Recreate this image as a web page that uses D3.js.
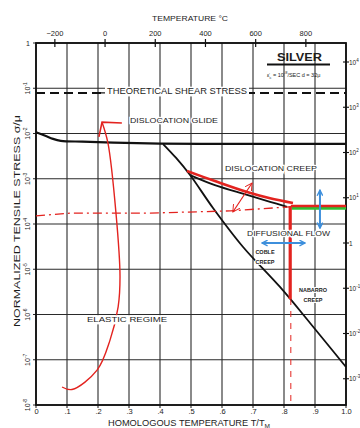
<!DOCTYPE html>
<html><head><meta charset="utf-8">
<script src="https://cdn.jsdelivr.net/npm/d3@7"></script>
<style>
body{margin:0;background:#fff}
svg{display:block}
text{font-family:"Liberation Sans",Arial,sans-serif;fill:#1c1c1c}
</style>
</head><body>
<svg id="chart" width="360" height="428"></svg>
<script>
// ---------- DATA ----------
const homologousTicks = [0, 0.1, 0.2, 0.3, 0.4, 0.5, 0.6, 0.7, 0.8, 0.9, 1.0];
const homologousLabels = ["0", ".1", ".2", ".3", ".4", ".5", ".6", ".7", ".8", ".9", "1.0"];
const stressExponents = [0, -1, -2, -3, -4, -5, -6, -7, -8];
const tempTicksC = [-200, 0, 200, 400, 600, 800];
const meltingPointK = 1235;
const rightExponents = [4, 3, 2, 1, 0, -1, -2, -3];
const rightFactor = 2.63e4; // right-axis stress / normalized stress

const theoreticalShear = 7.9e-2;

const glideT      = [0, 0.03, 0.055, 0.08, 0.15, 0.25, 0.4, 0.6, 0.8, 1.0];
const glideStress = [1.07e-2, 8.9e-3, 7.6e-3, 6.9e-3, 6.6e-3, 6.3e-3, 6.0e-3, 5.9e-3, 5.9e-3, 5.9e-3];

const lowerT      = [0.41, 0.452, 0.497, 0.571, 0.668, 0.787, 0.884, 1.0];
const lowerStress = [5.86e-3, 2.88e-3, 1.21e-3, 2.26e-4, 3.1e-5, 4.06e-6, 6.5e-7, 6.9e-8];

const creepDiffT      = [0.497, 0.577, 0.681, 0.755, 0.81];
const creepDiffStress = [1.2e-3, 7.2e-4, 4.4e-4, 3.1e-4, 2.4e-4];

const redCreepT      = [0.487, 0.577, 0.681, 0.755, 0.829];
const redCreepStress = [1.48e-3, 8.9e-4, 5.1e-4, 3.7e-4, 2.9e-4];

const redFlatT = [0.822, 1.0];
const redFlatStress = [2.5e-4, 2.5e-4];
const greenFlatT = [0.824, 1.0];
const greenFlatStress = [2.24e-4, 2.24e-4];
const redVertT = [0.82, 0.82];
const redVertStress = [2.5e-4, 2.2e-6];
const redDashVertT = [0.822, 0.822];
const redDashVertStress = [2.2e-6, 1e-8];

const redDashDotT = [0, 0.11, 0.368, 0.626, 0.82];
const redDashDotStress = [1.51e-4, 1.74e-4, 1.74e-4, 1.95e-4, 2.4e-4];

const glideArrowT = [0.084, 0.116, 0.197, 0.239, 0.265, 0.271, 0.258, 0.232, 0.213];
const glideArrowStress = [2.5e-8, 2.2e-8, 5.9e-8, 2.75e-7, 1.48e-6, 6.8e-6, 1.74e-4, 6.2e-3, 1.78e-2];
const glideHeadT = [0.203, 0.213, 0.277];
const glideHeadStress = [8.4e-3, 1.78e-2, 1.7e-2];

const redArrowT = [0.635, 0.697];
const redArrowStress = [1.84e-4, 8.05e-4];
const blueVertT = [0.916, 0.916];
const blueVertStress = [5.6e-4, 8.1e-5];
const blueHorizT = [0.729, 0.868];
const blueHorizStress = [3.8e-5, 3.8e-5];

// ---------- SCALES ----------
const svg = d3.select("#chart");
const L = 36, R = 346, T = 43, B = 405;
const x = d3.scaleLinear().domain([0, 1]).range([L, R]);
const y = d3.scaleLog().domain([1, 1e-8]).range([T, B]);
const xC = d3.scaleLinear().domain([-meltingPointK + 0 - 0, 0].map((d,i)=> i===0 ? -273.15 : meltingPointK - 273.15)).range([L, R]);
const yR = d3.scaleLog().domain([rightFactor, 1e-8 * rightFactor]).range([T, B]);

const RED = "#e3231f", BLUE = "#3d8fdc", GREEN = "#2fbf35", INK = "#1e1e1e";
const zip = (a, b) => a.map((d, i) => [d, b[i]]);
const line = d3.line().x(d => x(d[0])).y(d => y(d[1]));
const curve = d3.line().x(d => x(d[0])).y(d => y(d[1])).curve(d3.curveCatmullRom.alpha(0.5));

// markers
const defs = svg.append("defs");
function chevron(id, color) {
  defs.append("marker").attr("id", id).attr("viewBox", "0 0 10 10")
    .attr("refX", 9).attr("refY", 5).attr("markerWidth", 5).attr("markerHeight", 5)
    .attr("markerUnits", "userSpaceOnUse").attr("orient", "auto-start-reverse")
    .append("path").attr("d", "M1,1 L9,5 L1,9").attr("fill", "none")
    .attr("stroke", color).attr("stroke-width", 2);
}
defs.append("marker").attr("id", "blueHead").attr("viewBox", "0 0 10 10")
  .attr("refX", 9).attr("refY", 5).attr("markerWidth", 7).attr("markerHeight", 7)
  .attr("markerUnits", "userSpaceOnUse").attr("orient", "auto-start-reverse")
  .append("path").attr("d", "M1,1 L9,5 L1,9").attr("fill", "none")
  .attr("stroke", BLUE).attr("stroke-width", 2);
defs.append("marker").attr("id", "redHead").attr("viewBox", "0 0 10 10")
  .attr("refX", 9).attr("refY", 5).attr("markerWidth", 8).attr("markerHeight", 8)
  .attr("markerUnits", "userSpaceOnUse").attr("orient", "auto-start-reverse")
  .append("path").attr("d", "M0,0 L9,5 L0,10").attr("fill", "none")
  .attr("stroke", RED).attr("stroke-width", 1.2);

// ---------- GRID ----------
const grid = svg.append("g").attr("stroke", "#2a2a2a").attr("stroke-width", 1.1);
grid.selectAll(".v").data(homologousTicks).join("line")
  .attr("x1", d => x(d)).attr("x2", d => x(d)).attr("y1", T).attr("y2", B + 3);
grid.selectAll(".h").data(stressExponents).join("line")
  .attr("y1", d => y(Math.pow(10, d))).attr("y2", d => y(Math.pow(10, d)))
  .attr("x1", L - 3).attr("x2", R);

// frame
svg.append("rect").attr("x", L).attr("y", T).attr("width", R - L).attr("height", B - T)
  .attr("fill", "none").attr("stroke", "#111").attr("stroke-width", 1.8);

// top axis (temperature °C)
const topAxis = d3.axisTop(xC).tickValues(tempTicksC).tickSize(0).tickPadding(7).tickFormat(d3.format("d"));
const gTop = svg.append("g").attr("transform", `translate(0,${T})`).call(topAxis);
gTop.select(".domain").remove();
gTop.selectAll("text").attr("font-size", 7.5).attr("fill", INK).attr("font-family", "Liberation Sans");
gTop.selectAll(".tick").append("line").attr("y1", -4).attr("y2", 4).attr("stroke", "#111").attr("stroke-width", 1.2);

// bottom axis labels
const botAxis = d3.axisBottom(x).tickValues(homologousTicks).tickSize(0).tickPadding(4)
  .tickFormat((d, i) => homologousLabels[i]);
const gBot = svg.append("g").attr("transform", `translate(0,${B})`).call(botAxis);
gBot.select(".domain").remove();
gBot.selectAll("text").attr("font-size", 7.5).attr("fill", INK).attr("font-family", "Liberation Sans");

// left axis labels (rotated)
const gLeft = svg.append("g");
stressExponents.forEach(e => {
  const yy = y(Math.pow(10, e));
  const t = gLeft.append("text").attr("font-size", 7)
    .attr("transform", e === 0 ? `translate(28,${yy + 2.5})` : `translate(30,${yy}) rotate(-90)`)
    .attr("text-anchor", "middle");
  if (e === 0) t.text("1");
  else { t.append("tspan").text("10"); t.append("tspan").attr("dy", -3).attr("font-size", 5).text(String(e)); }
});

// right axis ticks & labels
const gRight = svg.append("g");
rightExponents.forEach(e => {
  const yy = yR(Math.pow(10, e));
  gRight.append("line").attr("x1", R - 3).attr("x2", R + 3).attr("y1", yy).attr("y2", yy)
    .attr("stroke", "#111").attr("stroke-width", 1.1);
  const t = gRight.append("text").attr("x", R + 3).attr("y", yy + 2.5).attr("font-size", 6.5);
  if (e === 0) t.text("1");
  else { t.append("tspan").text("10"); t.append("tspan").attr("dy", -3).attr("font-size", 4.5).text(String(e)); }
});

// ---------- CURVES ----------
// theoretical shear stress (dashed), broken by label
const thY = y(theoreticalShear);
svg.append("path").attr("d", line([[0, theoreticalShear], [1, theoreticalShear]]))
  .attr("stroke", "#111").attr("stroke-width", 2).attr("stroke-dasharray", "9,5").attr("fill", "none");

svg.append("path").attr("d", curve(zip(glideT, glideStress)))
  .attr("stroke", "#111").attr("stroke-width", 2.2).attr("fill", "none");
svg.append("path").attr("d", curve(zip(lowerT, lowerStress)))
  .attr("stroke", "#111").attr("stroke-width", 1.8).attr("fill", "none");
svg.append("path").attr("d", curve(zip(creepDiffT, creepDiffStress)))
  .attr("stroke", "#111").attr("stroke-width", 1.8).attr("fill", "none");

// red / green overlays
svg.append("path").attr("d", line(zip(redDashDotT, redDashDotStress)))
  .attr("stroke", RED).attr("stroke-width", 1.3).attr("stroke-dasharray", "9,4,2,4").attr("fill", "none");
svg.append("path").attr("d", line(zip(greenFlatT, greenFlatStress)))
  .attr("stroke", GREEN).attr("stroke-width", 3).attr("fill", "none");
svg.append("path").attr("d", curve(zip(redCreepT, redCreepStress)))
  .attr("stroke", RED).attr("stroke-width", 2.6).attr("fill", "none");
svg.append("path").attr("d", line(zip(redFlatT, redFlatStress)))
  .attr("stroke", RED).attr("stroke-width", 2.6).attr("fill", "none");
svg.append("path").attr("d", line(zip(redVertT, redVertStress)))
  .attr("stroke", RED).attr("stroke-width", 3.2).attr("fill", "none");
svg.append("path").attr("d", line(zip(redDashVertT, redDashVertStress)))
  .attr("stroke", RED).attr("stroke-width", 1).attr("stroke-dasharray", "6,6").attr("fill", "none");

svg.append("path").attr("d", curve(zip(glideArrowT, glideArrowStress)))
  .attr("stroke", RED).attr("stroke-width", 1.4).attr("fill", "none");
svg.append("path").attr("d", line(zip(glideHeadT, glideHeadStress)))
  .attr("stroke", RED).attr("stroke-width", 1.6).attr("fill", "none");

svg.append("path").attr("d", line(zip(redArrowT, redArrowStress)))
  .attr("stroke", RED).attr("stroke-width", 1.2).attr("fill", "none")
  .attr("marker-start", "url(#redHead)").attr("marker-end", "url(#redHead)");

svg.append("path").attr("d", line(zip(blueVertT, blueVertStress)))
  .attr("stroke", BLUE).attr("stroke-width", 2).attr("fill", "none")
  .attr("marker-start", "url(#blueHead)").attr("marker-end", "url(#blueHead)");
svg.append("path").attr("d", line(zip(blueHorizT, blueHorizStress)))
  .attr("stroke", BLUE).attr("stroke-width", 2.2).attr("fill", "none")
  .attr("marker-start", "url(#blueHead)").attr("marker-end", "url(#blueHead)");

// ---------- LABELS ----------
function label(txt, x0, x1, yy, size, opts = {}) {
  if (opts.bg) svg.append("rect").attr("x", x0 - 2).attr("y", yy - size * 0.85).attr("width", x1 - x0 + 4)
    .attr("height", size * 1.15).attr("fill", "#fff");
  const t = svg.append("text").attr("x", x0).attr("y", yy).attr("font-size", size)
    .attr("textLength", x1 - x0).attr("lengthAdjust", "spacingAndGlyphs").text(txt);
  if (opts.halo) t.attr("stroke", "#fff").attr("stroke-width", 2.5).attr("paint-order", "stroke");
  if (opts.bold) t.attr("font-weight", "bold");
  return t;
}
label("THEORETICAL SHEAR STRESS", 107, 247, thY + 1, 8.5, { bg: true });
svg.append("line").attr("x1", 99).attr("x2", 105).attr("y1", thY).attr("y2", thY).attr("stroke", "#111").attr("stroke-width", 1.2);
label("DISLOCATION GLIDE", 130, 218, 123, 7.5, { halo: true });
label("DISLOCATION CREEP", 225, 317, 171, 8, { halo: true });
label("DIFFUSIONAL FLOW", 247, 330, 236, 8, { halo: true });
label("ELASTIC REGIME", 87, 167, 322, 8, { bg: true });

function smallCentered(txt, cx, yy) {
  svg.append("text").attr("x", cx).attr("y", yy).attr("font-size", 5.5).attr("font-weight", "bold")
    .attr("text-anchor", "middle").attr("stroke", "#fff").attr("stroke-width", 2)
    .attr("paint-order", "stroke").text(txt);
}
smallCentered("COBLE", 265, 254);
smallCentered("CREEP", 265, 264);
smallCentered("NABARRO", 313, 292);
smallCentered("CREEP", 313, 302);

// SILVER box text
label("SILVER", 277, 322, 61, 10.5, { bold: true });
svg.append("line").attr("x1", 267).attr("x2", 330).attr("y1", 64.5).attr("y2", 64.5).attr("stroke", "#111").attr("stroke-width", 2);
const cond = svg.append("text").attr("x", 267).attr("y", 77).attr("font-size", 5.5);
cond.append("tspan").text("ε̇");
cond.append("tspan").attr("dy", 1.5).attr("font-size", 4).text("c");
cond.append("tspan").attr("dy", -1.5).text(" = 10");
cond.append("tspan").attr("dy", -3).attr("font-size", 4).text("-8");
cond.append("tspan").attr("dy", 3).text("/SEC  d = 32μ");

// axis titles
label("TEMPERATURE °C", 152, 228, 21, 8);
const bt = svg.append("text").attr("x", 108).attr("y", 426).attr("font-size", 8.5)
  .attr("textLength", 162).attr("lengthAdjust", "spacingAndGlyphs");
bt.append("tspan").text("HOMOLOGOUS TEMPERATURE T/T");
bt.append("tspan").attr("dy", 2).attr("font-size", 6).text("M");

const lt = svg.append("text").attr("transform", "translate(20,327) rotate(-90)").attr("font-size", 9.5)
  .attr("textLength", 212).attr("lengthAdjust", "spacingAndGlyphs");
lt.text("NORMALIZED TENSILE STRESS σ/μ");
</script>
</body></html>
